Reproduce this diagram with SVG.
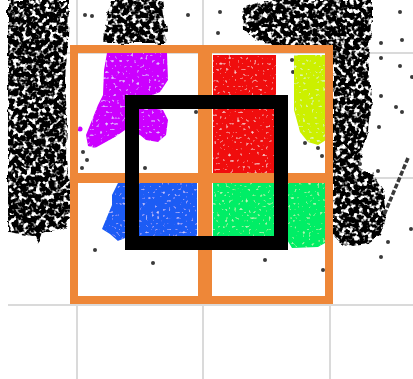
<svg xmlns="http://www.w3.org/2000/svg" width="413" height="379" viewBox="0 0 413 379">
<defs>
<filter id="dense" filterUnits="userSpaceOnUse" x="0" y="0" width="413" height="379">
<feTurbulence type="fractalNoise" baseFrequency="0.12" numOctaves="1" seed="3" result="d"/>
<feDisplacementMap in="SourceGraphic" in2="d" scale="7" xChannelSelector="R" yChannelSelector="G" result="shape"/>
<feTurbulence type="fractalNoise" baseFrequency="0.22" numOctaves="2" seed="7" result="n"/>
<feColorMatrix in="n" type="matrix" values="0 0 0 0 0  0 0 0 0 0  0 0 0 0 0  -6 0 0 0 4.0" result="m"/>
<feComposite in="m" in2="shape" operator="in"/>
</filter>
<filter id="lt" filterUnits="userSpaceOnUse" x="0" y="0" width="413" height="379">
<feTurbulence type="fractalNoise" baseFrequency="0.35" numOctaves="1" seed="11" result="n"/>
<feColorMatrix in="n" type="matrix" values="0 0 0 0 1  0 0 0 0 1  0 0 0 0 1  3 0 0 0 -1.9" result="w"/>
<feComposite in="w" in2="SourceGraphic" operator="in" result="wc"/>
<feMerge><feMergeNode in="SourceGraphic"/><feMergeNode in="wc"/></feMerge>
</filter>
</defs>
<style>
.grid{stroke:#dadada;stroke-width:2;fill:none}
.dot{fill:#3a3a3a}
.cell{fill:none;stroke:#ee8738;stroke-width:8}
</style>
<rect width="413" height="379" fill="#ffffff"/>
<g id="grid" class="grid">
<line x1="77" y1="0" x2="77" y2="379"/>
<line x1="203" y1="0" x2="203" y2="379"/>
<line x1="330" y1="0" x2="330" y2="379"/>
<line x1="8" y1="53" x2="413" y2="53"/>
<line x1="8" y1="178" x2="413" y2="178"/>
<line x1="8" y1="305" x2="413" y2="305"/>
</g>
<g id="scatter-dense" filter="url(#dense)" fill="#000">
<path d="M8,0 L69,0 L68,40 L65,80 L67,120 L66,160 L71,190 L73,210 L66,226 L55,230 L42,234 L38,243 L33,236 L20,234 L8,232 Z"/>
<path d="M112,0 L162,0 L164,15 L167,30 L166,43 L103,43 L104,30 L108,15 Z"/>
<path d="M243,8 L265,0 L372,0 L372,25 L368,60 L371,100 L368,130 L362,150 L358,168 L372,172 L383,190 L386,215 L380,235 L368,244 L352,246 L340,242 L333,235 L333,45 L310,47 L280,45 L255,40 L244,30 Z"/>
</g>
<g id="scatter-sparse" class="dot">
<circle cx="85" cy="15" r="2"/><circle cx="92" cy="16" r="2"/><circle cx="188" cy="15" r="2"/>
<circle cx="220" cy="12" r="2"/><circle cx="218" cy="33" r="2"/><circle cx="400" cy="12" r="2"/>
<circle cx="402" cy="40" r="2"/><circle cx="381" cy="43" r="2"/><circle cx="381" cy="58" r="2"/>
<circle cx="400" cy="66" r="2"/><circle cx="412" cy="77" r="2"/><circle cx="381" cy="96" r="2"/>
<circle cx="396" cy="107" r="2"/><circle cx="402" cy="112" r="2"/><circle cx="379" cy="127" r="2"/>
<circle cx="360" cy="164" r="2"/><circle cx="378" cy="171" r="2"/><circle cx="388" cy="242" r="2"/>
<circle cx="381" cy="257" r="2"/><circle cx="411" cy="229" r="2"/>
<circle cx="265" cy="260" r="2"/><circle cx="323" cy="270" r="2"/><circle cx="95" cy="250" r="2"/>
<circle cx="153" cy="263" r="2"/><circle cx="196" cy="112" r="2"/><circle cx="145" cy="168" r="2"/>
<circle cx="83" cy="152" r="2"/><circle cx="87" cy="160" r="2"/><circle cx="82" cy="168" r="2"/>
<circle cx="292" cy="60" r="2"/><circle cx="293" cy="72" r="2"/><circle cx="305" cy="143" r="2"/>
<circle cx="318" cy="148" r="2"/><circle cx="322" cy="156" r="2"/>
<path d="M408,158 L384,215" stroke="#3a3a3a" stroke-width="3.5" stroke-dasharray="5 2" fill="none"/>
</g>
<g id="clusters" filter="url(#lt)">
<path id="purple" fill="#cc00ff" d="M107,53 L167,53 L168,80 L160,92 L150,96 L150,108 L163,110 L168,120 L166,135 L158,142 L146,140 L140,135 L125,130 L115,137 L104,143 L95,148 L88,146 L86,135 L92,120 L98,105 L103,95 L104,70 Z"/>
<circle cx="80" cy="129" r="2.5" fill="#cc00ff"/>
<rect id="red" x="213" y="55" width="63" height="120" fill="#f00808"/>
<path id="yellow" fill="#ccf000" d="M294,55 L326,55 L326,140 L318,145 L308,142 L300,132 L294,110 Z"/>
<path id="blue" fill="#1a5cf5" d="M118,183 L197,183 L197,238 L125,238 L118,241 L110,234 L102,229 L107,217 L112,205 L112,195 Z"/>
<path id="green" fill="#00ee66" d="M213,183 L325,183 L325,243 L318,247 L292,248 L286,238 L213,236 Z"/>
</g>
<g id="cells" class="cell">
<rect x="74" y="49" width="128" height="128"/>
<rect x="208" y="49" width="121" height="128"/>
<rect x="74" y="179" width="128" height="121"/>
<rect x="208" y="179" width="121" height="121"/>
</g>
<rect id="window" x="132" y="102" width="149" height="141" fill="none" stroke="#000" stroke-width="14"/>
</svg>
